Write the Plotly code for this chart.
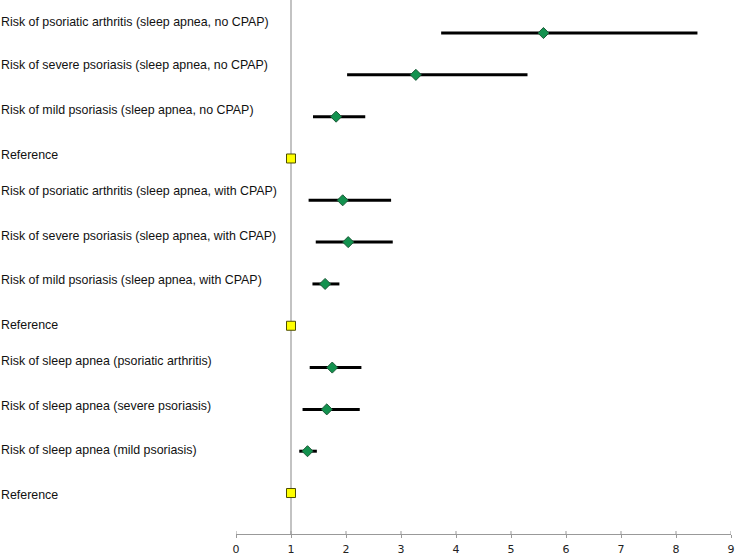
import plotly.graph_objects as go

labels = [
    "Risk of psoriatic arthritis (sleep apnea, no CPAP)",
    "Risk of severe psoriasis (sleep apnea, no CPAP)",
    "Risk of mild psoriasis (sleep apnea, no CPAP)",
    "Reference",
    "Risk of psoriatic arthritis (sleep apnea, with CPAP)",
    "Risk of severe psoriasis (sleep apnea, with CPAP)",
    "Risk of mild psoriasis (sleep apnea, with CPAP)",
    "Reference",
    "Risk of sleep apnea (psoriatic arthritis)",
    "Risk of sleep apnea (severe psoriasis)",
    "Risk of sleep apnea (mild psoriasis)",
    "Reference",
]
# estimate, lower CI, upper CI (None for reference rows)
estimates = [5.59, 3.27, 1.82, 1.0, 1.94, 2.04, 1.62, 1.0, 1.75, 1.65, 1.30, 1.0]
lower = [3.73, 2.02, 1.40, None, 1.32, 1.45, 1.39, None, 1.34, 1.21, 1.15, None]
upper = [8.39, 5.30, 2.35, None, 2.82, 2.85, 1.88, None, 2.28, 2.25, 1.47, None]
x_ticks = [0, 1, 2, 3, 4, 5, 6, 7, 8, 9]

# layout: vertical offset of each text label relative to its row (row units)
label_offsets = [-0.27, -0.23, -0.16, -0.08, -0.22, -0.15, -0.09, -0.01, -0.15, -0.08, -0.02, 0.05]

rows = list(range(len(labels)))
est_rows = [r for r in rows if lower[r] is not None]
ref_rows = [r for r in rows if lower[r] is None]

fig = go.Figure()

fig.add_trace(go.Scatter(
    x=[estimates[r] for r in est_rows],
    y=est_rows,
    mode="markers",
    marker=dict(symbol="diamond", size=8.5, color="#13924f",
                line=dict(color="#1d5a38", width=1)),
    error_x=dict(type="data", symmetric=False,
                 array=[upper[r] - estimates[r] for r in est_rows],
                 arrayminus=[estimates[r] - lower[r] for r in est_rows],
                 color="black", thickness=3, width=0),
    showlegend=False, hoverinfo="skip",
))

fig.add_trace(go.Scatter(
    x=[estimates[r] for r in ref_rows],
    y=ref_rows,
    mode="markers",
    marker=dict(symbol="square", size=9, color="#ffff00",
                line=dict(color="#4d4d00", width=1)),
    showlegend=False, hoverinfo="skip",
))

# reference vertical line at 1
fig.add_shape(type="line", xref="x", yref="paper", x0=1, x1=1, y0=0, y1=1,
              line=dict(color="#c3c3c3", width=2), layer="below")

# upper half of crossing tick marks
for t in x_ticks:
    fig.add_shape(type="line", xref="x", yref="paper", x0=t, x1=t,
                  y0=0, y1=3 / 534, line=dict(color="#999999", width=1))

for r in rows:
    fig.add_annotation(
        x=0, xref="paper", xshift=-237, y=r + label_offsets[r], yref="y",
        text=labels[r], showarrow=False, xanchor="left", yanchor="middle",
        font=dict(family="Liberation Sans, Arial", size=12.4, color="#111111"),
    )

fig.update_layout(
    width=735, height=557,
    margin=dict(l=236, r=4, t=0, b=23),
    plot_bgcolor="white", paper_bgcolor="white",
    xaxis=dict(range=[0, 9], tickvals=x_ticks, showgrid=False, zeroline=False,
               showline=True, linecolor="#999999", linewidth=1,
               ticks="outside", ticklen=3, tickcolor="#999999",
               ticklabelstandoff=2,
               tickfont=dict(family="DejaVu Sans", size=11, color="#222222")),
    yaxis=dict(range=[11.98, -0.79], showgrid=False, zeroline=False,
               showticklabels=False, showline=False, ticks=""),
)

fig.write_html("out.html", config={"displayModeBar": False},
               post_script="document.body.style.margin='0';document.body.style.overflow='hidden';")
